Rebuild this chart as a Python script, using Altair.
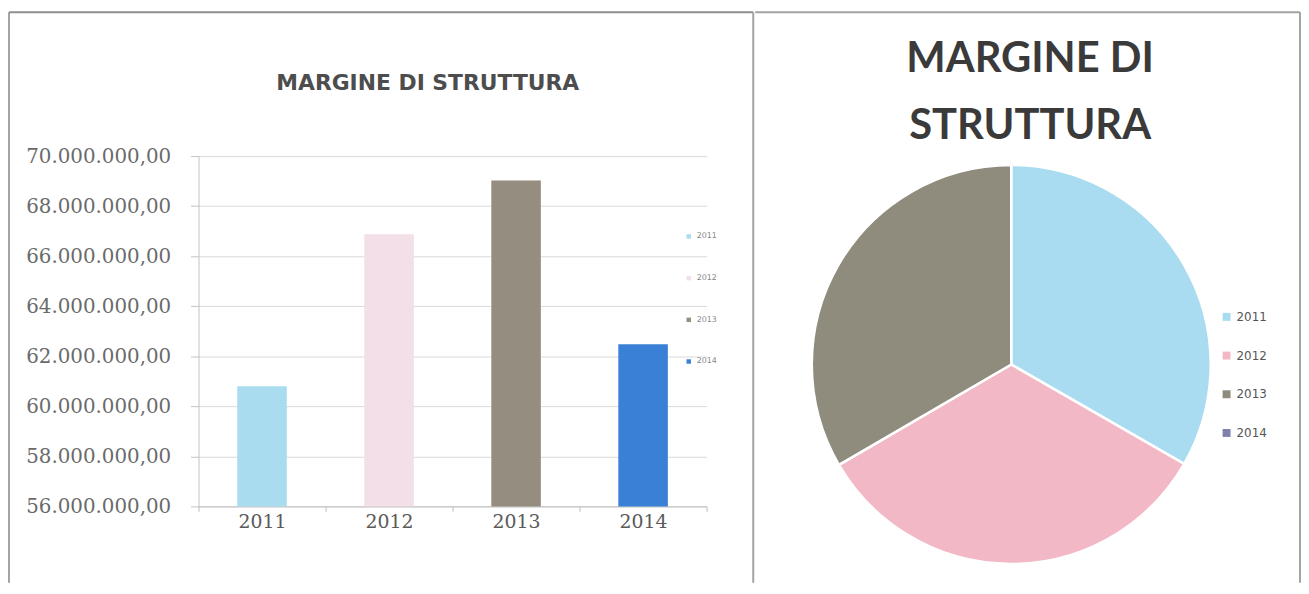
import altair as alt
import pandas as pd

# ---------------- data ----------------
years = ["2011", "2012", "2013", "2014"]
margine = [60_800_000, 66_880_000, 69_020_000, 62_480_000]
bar_colors = ["#a9dcee", "#f3dfe7", "#958e80", "#3a80d6"]

pie_shares = [33.3, 33.3, 33.4, 0.0]
pie_colors = ["#a9dcf0", "#f2b8c6", "#8f8c7d", "#8080ad"]

y_ticks = [56_000_000, 58_000_000, 60_000_000, 62_000_000,
           64_000_000, 66_000_000, 68_000_000, 70_000_000]

title_bar = "MARGINE DI STRUTTURA"
title_pie = ["MARGINE DI", "STRUTTURA"]

bars_df = pd.DataFrame({"anno": years, "valore": margine})
pie_df = pd.DataFrame({"anno": years, "quota": pie_shares, "ordine": list(range(len(years)))})
one = pd.DataFrame({"k": [0]})

BORDER = "#a3a3a3"

# ---------------- left panel: bar chart ----------------
bars = alt.Chart(bars_df).mark_bar(width=alt.RelativeBandSize(0.39)).encode(
    x=alt.X("anno:N", sort=years,
            scale=alt.Scale(paddingInner=0, paddingOuter=0),
            axis=alt.Axis(title=None, labelAngle=0, labelFont="DejaVu Serif",
                          labelFontSize=19, labelColor="#5a5a5a",
                          domainColor="#bdbdbd", tickColor="#bdbdbd",
                          tickSize=5, labelPadding=1, tickBand="extent", grid=False)),
    y=alt.Y("valore:Q",
            scale=alt.Scale(domain=[y_ticks[0], y_ticks[-1]], nice=False, zero=False),
            axis=alt.Axis(title=None, values=y_ticks,
                          labelExpr="replace(format(datum.value, ',.0f'), regexp(',', 'g'), '.') + ',00'",
                          labelFont="DejaVu Serif", labelFontSize=20, labelColor="#6a6a6a",
                          tickSize=8, tickColor="#c4c4c4", domainColor="#c4c4c4",
                          gridColor="#dadada", labelPadding=20)),
    y2=alt.datum(y_ticks[0]),
    color=alt.Color("anno:N",
                    scale=alt.Scale(domain=years, range=bar_colors),
                    legend=alt.Legend(title=None, orient="none", legendX=490, legendY=77,
                                      symbolType="square", symbolSize=20, symbolStrokeWidth=0,
                                      labelFont="DejaVu Sans", labelFontSize=8,
                                      labelColor="#888888", rowPadding=34)),
)

bar_title = alt.Chart(pd.DataFrame({"t": [title_bar]})).mark_text(
    font="DejaVu Sans", fontWeight="bold", fontSize=22, color="#4d4d4d",
    align="center", baseline="middle"
).encode(text="t:N", x=alt.value(231), y=alt.value(-74))

lb_left = alt.Chart(one).mark_rule(color=BORDER, strokeWidth=2).encode(
    x=alt.value(-191), y=alt.value(-145), y2=alt.value(430))
lb_top = alt.Chart(one).mark_rule(color="#8f8f8f", strokeWidth=2).encode(
    x=alt.value(-191), x2=alt.value(559), y=alt.value(-145))
lb_right = alt.Chart(one).mark_rule(color=BORDER, strokeWidth=2).encode(
    x=alt.value(559), y=alt.value(-145), y2=alt.value(430))

left = alt.layer(bars, bar_title, lb_left, lb_top, lb_right).properties(width=512, height=353)

# ---------------- right panel: pie chart ----------------
pie = alt.Chart(pie_df).transform_filter("datum.quota > 0").mark_arc(
    outerRadius=201, stroke="white", strokeWidth=2.5
).encode(
    theta=alt.Theta("quota:Q", stack=True),
    order=alt.Order("ordine:Q"),
    color=alt.Color("anno:N",
                    scale=alt.Scale(domain=years, range=pie_colors),
                    legend=alt.Legend(title=None, orient="none", legendX=469, legendY=156,
                                      symbolType="square", symbolSize=64, symbolStrokeWidth=0,
                                      labelFont="DejaVu Sans", labelFontSize=12,
                                      labelColor="#555555", rowPadding=27)),
    x=alt.value(258),
    y=alt.value(210),
)

pie_title = alt.Chart(pd.DataFrame({"t": ["\n".join(title_pie)]})).mark_text(
    font="Lato", fontWeight="bold", fontSize=42, color="#3a3a3a",
    align="center", baseline="top", lineBreak="\n", lineHeight=68
).encode(text="t:N", x=alt.value(277), y=alt.value(-118))

rb_top = alt.Chart(one).mark_rule(color=BORDER, strokeWidth=2).encode(
    x=alt.value(0), x2=alt.value(549), y=alt.value(-145))
rb_right = alt.Chart(one).mark_rule(color=BORDER, strokeWidth=2).encode(
    x=alt.value(549), y=alt.value(-145), y2=alt.value(430))

right = alt.layer(pie, pie_title, rb_top, rb_right).properties(width=549, height=353)

chart = alt.hconcat(left, right, spacing=0).resolve_scale(color="independent").properties(
    padding={"left": 0, "top": 1, "right": 0, "bottom": 0},
    background="white",
).configure_view(stroke=None)

chart.save("out.html", embed_options={"renderer": "svg", "actions": False})
